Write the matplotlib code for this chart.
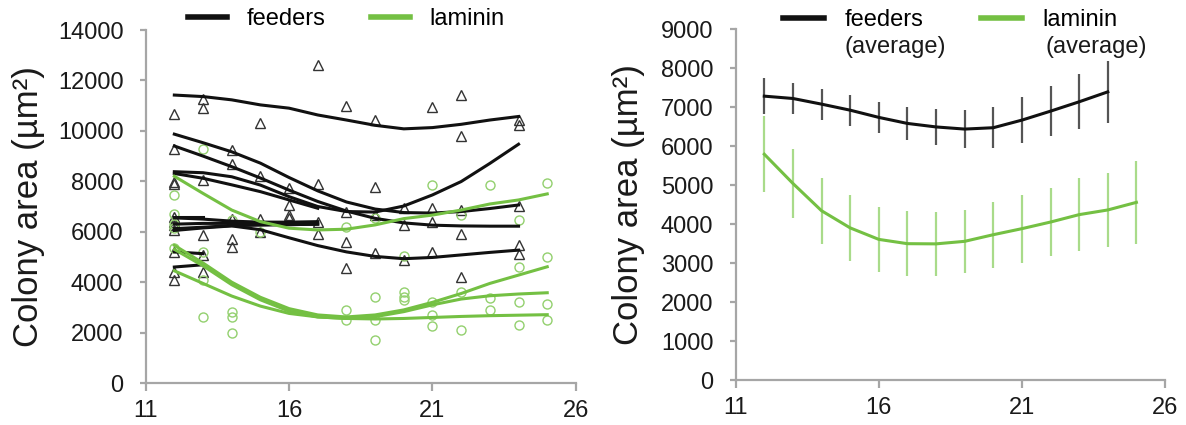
import matplotlib.pyplot as plt
from matplotlib.lines import Line2D

plt.rcParams['font.family'] = ['Liberation Sans', 'DejaVu Sans']

BLACK = '#111111'
GREEN = '#74c043'
GREEN_PT = '#93d06e'
GREEN_ERR = '#a9db8a'
AXIS = '#a6a6a6'

# ---- left panel: individual colonies ----
days_fit = list(range(12, 25))
feed_A = [11420, 11360, 11230, 11030, 10900, 10630, 10430, 10220, 10080, 10130, 10260, 10430, 10570]
feed_B = [9870, 9530, 9170, 8720, 8150, 7620, 7180, 6900, 6760, 6740, 6800, 6920, 7060]
feed_C = [9400, 9000, 8580, 8130, 7650, 7200, 6820, 6530, 6350, 6260, 6230, 6220, 6220]
feed_D = [8380, 8340, 8180, 7850, 7390, 7000, 6800, 6780, 7020, 7460, 7990, 8710, 9470]
feed_G = [6050, 6150, 6230, 6080, 5760, 5450, 5200, 5020, 4930, 4980, 5080, 5180, 5270]

days_short = [12, 13, 14, 15, 16, 17]
feed_E = [8310, 8120, 7860, 7590, 7260, 6930]
feed_H1 = [6550, 6500, 6420, 6380, 6380, 6400]
feed_H2 = [6300, 6330, 6330, 6300, 6280, 6300]
feed_H3 = [6120, 6180, 6240, 6260, 6280, 6300]

days_stub = [12, 13]
feed_S0 = [6600, 6600]
feed_S1 = [5200, 5130]
feed_S2 = [4600, 4690]

days_lam = list(range(12, 26))
lam_1 = [8200, 7520, 6860, 6400, 6140, 6070, 6100, 6270, 6520, 6660, 6860, 7100, 7260, 7500]
lam_2 = [5460, 4760, 4000, 3400, 2950, 2700, 2620, 2700, 2900, 3200, 3550, 3950, 4280, 4610]
lam_3 = [5300, 4650, 3900, 3300, 2850, 2620, 2560, 2630, 2830, 3100, 3330, 3460, 3530, 3580]
lam_4 = [4450, 3950, 3450, 3050, 2760, 2620, 2560, 2540, 2560, 2600, 2640, 2670, 2690, 2710]

tri_x = [12]*11 + [13]*6 + [14]*5 + [15]*4 + [16]*4 + [17]*4 + [18]*4 + [19]*4 + [20]*3 + [21]*4 + [22]*5 + [24]*5
tri_y = [10650, 9300, 7990, 7880, 6580, 6400, 6250, 6060, 5200, 4400, 4070,
         11250, 10900, 8050, 5860, 5070, 4400,
         9240, 8700, 6520, 5720, 5390,
         10330, 8210, 6520, 5990,
         7750, 7060, 6660, 6530,
         12630, 7880, 6400, 5910,
         10990, 6790, 5600, 4550,
         10430, 7790, 6660, 5140,
         6930, 6270, 4880,
         10940, 6930, 6400, 5210,
         11420, 9800, 6860, 5910, 4190,
         10430, 10230, 7020, 5470, 5120]

circ_x = [12]*5 + [13]*4 + [14]*4 + [15] + [18]*3 + [19]*4 + [20]*4 + [21]*4 + [22]*3 + [23]*3 + [24]*4 + [25]*4
circ_y = [7450, 6700, 6300, 6150, 5350,
          9300, 5200, 4100, 2600,
          6450, 2800, 2600, 2000,
          6000,
          6200, 2900, 2500,
          6550, 3420, 2480, 1690,
          5050, 3620, 3420, 3290,
          7850, 3230, 2700, 2260,
          6650, 3600, 2100,
          7850, 3360, 2900,
          6450, 4590, 3230, 2300,
          7950, 5010, 3130, 2490]

# ---- right panel: averages ----
avg_days_feed = list(range(12, 25))
avg_feed = [7290, 7230, 7085, 6930, 6745, 6590, 6500, 6445, 6480, 6675, 6905, 7145, 7400]
err_feed = [470, 405, 395, 400, 405, 420, 470, 490, 530, 590, 635, 705, 800]
avg_days_lam = list(range(12, 26))
avg_lam = [5800, 5050, 4350, 3910, 3615, 3505, 3500, 3565, 3735, 3890, 4060, 4250, 4370, 4565]
err_lam = [980, 890, 850, 840, 830, 830, 830, 805, 850, 870, 880, 940, 950, 1060]

fig = plt.figure(figsize=(11.86, 4.25), dpi=100)
ax1 = fig.add_axes([0.1228, 0.0988, 0.3628, 0.8306])
ax2 = fig.add_axes([0.6203, 0.1052, 0.3620, 0.8254])

# left panel
ax1.plot(tri_x, tri_y, linestyle='none', marker='^', ms=6.5, mfc='none', mec='#333333', mew=1.0, zorder=2)
ax1.plot(circ_x, circ_y, linestyle='none', marker='o', ms=6.5, mfc='none', mec=GREEN_PT, mew=1.0, zorder=2)
for ys in [feed_A, feed_B, feed_C, feed_D, feed_G]:
    ax1.plot(days_fit, ys, color=BLACK, lw=2.2, zorder=3)
for ys in [feed_E, feed_H1, feed_H2, feed_H3]:
    ax1.plot(days_short, ys, color=BLACK, lw=2.2, zorder=3)
for ys in [feed_S0, feed_S1, feed_S2]:
    ax1.plot(days_stub, ys, color=BLACK, lw=2.2, zorder=3)
for ys in [lam_1, lam_2, lam_3, lam_4]:
    ax1.plot(days_lam, ys, color=GREEN, lw=2.2, zorder=3)
ax1.set_ylim(0, 14000)
ax1.set_yticks(range(0, 14001, 2000))

# right panel
ax2.errorbar(avg_days_feed, avg_feed, yerr=err_feed, color=BLACK, lw=2.2,
             ecolor='#555555', elinewidth=1.6, capsize=0, zorder=3)
ax2.errorbar(avg_days_lam, avg_lam, yerr=err_lam, color=GREEN, lw=2.2,
             ecolor=GREEN_ERR, elinewidth=1.6, capsize=0, zorder=3)
ax2.set_ylim(0, 9000)
ax2.set_yticks(range(0, 9001, 1000))

for ax in (ax1, ax2):
    ax.set_xlim(11, 26)
    ax.set_xticks([11, 16, 21, 26])
    for s in ('top', 'right'):
        ax.spines[s].set_visible(False)
    for s in ('left', 'bottom'):
        ax.spines[s].set_color(AXIS)
        ax.spines[s].set_linewidth(1.6)
    ax.tick_params(axis='y', colors=AXIS, labelcolor='#1a1a1a', labelsize=17, length=4, width=1.6, pad=12)
    ax.tick_params(axis='x', colors=AXIS, labelcolor='#1a1a1a', labelsize=17, length=6, width=1.6, pad=6)
    ax.set_ylabel('Colony area (µm²)', fontsize=25, color='#1a1a1a')

ax1.yaxis.set_label_coords(-0.234, 0.5)
ax2.yaxis.set_label_coords(-0.211, 0.5)

h_black = Line2D([], [], color=BLACK, lw=4)
h_green = Line2D([], [], color=GREEN, lw=4)
ax1.legend([h_black, h_green], ['feeders', 'laminin'], loc='center left',
           bbox_to_anchor=(0.098, 1.03), ncol=2, frameon=False, fontsize=17,
           handlelength=1.65, handletextpad=0.85, columnspacing=1.9,
           borderpad=0, borderaxespad=0)
ax2.legend([h_black, h_green], ['feeders', 'laminin'], loc='center left',
           bbox_to_anchor=(0.110, 1.027), ncol=2, frameon=False, fontsize=17,
           handlelength=1.75, handletextpad=0.85, columnspacing=2.45,
           borderpad=0, borderaxespad=0)
ax2.text(0.2546, 0.950, '(average)', transform=ax2.transAxes, fontsize=17,
         color='#1a1a1a', va='center', ha='left')
ax2.text(0.722, 0.950, '(average)', transform=ax2.transAxes, fontsize=17,
         color='#1a1a1a', va='center', ha='left')

fig.savefig('out.png', dpi=100)
